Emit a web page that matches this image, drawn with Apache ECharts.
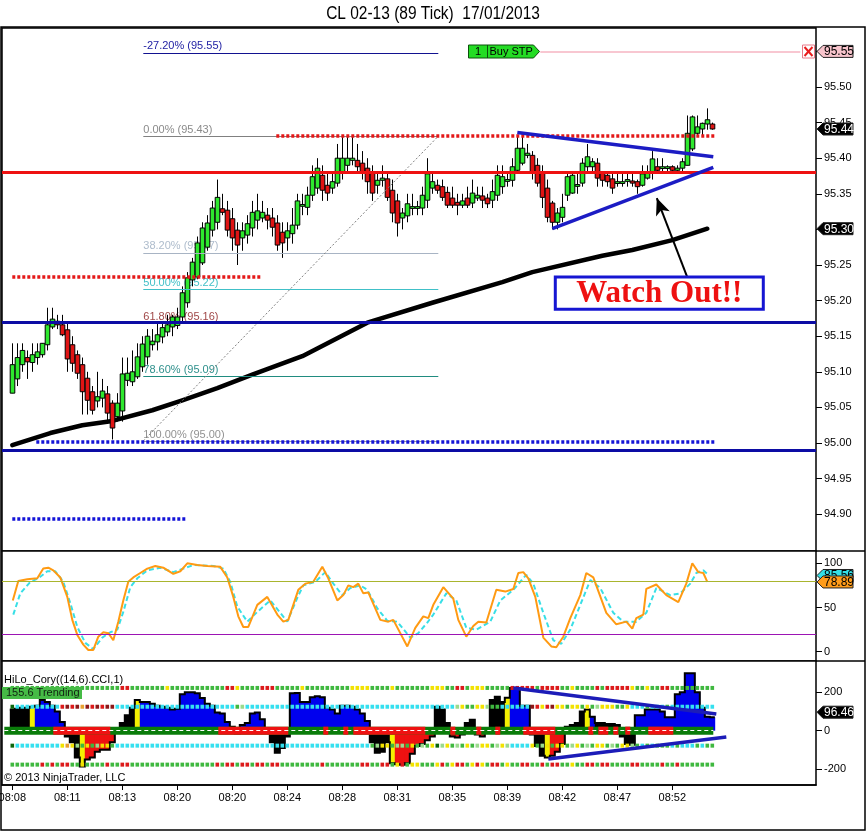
<!DOCTYPE html>
<html><head><meta charset="utf-8">
<script src="https://cdn.jsdelivr.net/npm/echarts@6/dist/echarts.min.js"></script>
<style>html,body{margin:0;padding:0;background:#fff;overflow:hidden}#c{width:866px;height:831px}</style>
</head><body><div id="c"></div>
<script>
// ---------------- DATA ----------------
const opens = [95.07,95.09,95.11,95.12,95.113,95.12,95.124,95.138,95.163,95.171,
 95.166,95.159,95.138,95.124,95.11,95.091,95.072,95.059,95.063,95.069,
 95.056,95.037,95.045,95.088,95.086,95.093,95.107,95.121,95.138,95.142,
 95.149,95.156,95.163,95.165,95.177,95.197,95.229,95.233,95.253,95.275,
 95.299,95.31,95.329,95.327,95.315,95.299,95.288,95.292,95.302,95.313,
 95.316,95.32,95.316,95.309,95.296,95.288,95.294,95.306,95.333,95.331,
 95.348,95.358,95.376,95.362,95.358,95.365,95.381,95.39,95.397,95.397,
 95.393,95.386,95.379,95.362,95.369,95.371,95.355,95.34,95.316,95.319,
 95.331,95.33,95.33,95.341,95.358,95.362,95.36,95.352,95.344,95.338,
 95.334,95.344,95.337,95.344,95.347,95.344,95.341,95.348,95.36,95.368,
 95.369,95.383,95.393,95.404,95.404,95.39,95.381,95.358,95.337,95.31,
 95.317,95.348,95.351,95.361,95.365,95.388,95.388,95.393,95.379,95.376,
 95.371,95.366,95.366,95.368,95.368,95.367,95.362,95.372,95.381,95.388,
 95.387,95.387,95.388,95.383,95.386,95.39,95.413,95.435,95.441,95.448,
 95.448];
const highs = [95.14,95.14,95.14,95.13,95.14,95.14,95.14,95.19,95.19,95.18,
 95.18,95.17,95.15,95.13,95.12,95.10,95.08,95.10,95.09,95.08,
 95.06,95.07,95.12,95.12,95.13,95.14,95.15,95.16,95.16,95.17,
 95.17,95.18,95.18,95.19,95.22,95.24,95.26,95.29,95.31,95.32,
 95.34,95.37,95.35,95.34,95.33,95.31,95.31,95.32,95.34,95.35,
 95.34,95.33,95.33,95.32,95.31,95.31,95.33,95.35,95.35,95.36,
 95.39,95.40,95.39,95.38,95.38,95.42,95.43,95.43,95.43,95.42,
 95.41,95.40,95.39,95.38,95.39,95.38,95.37,95.35,95.33,95.35,
 95.35,95.34,95.36,95.40,95.38,95.37,95.37,95.36,95.36,95.35,
 95.35,95.36,95.37,95.36,95.36,95.35,95.37,95.39,95.39,95.38,
 95.40,95.43,95.43,95.42,95.41,95.40,95.39,95.37,95.34,95.33,
 95.35,95.38,95.38,95.38,95.40,95.42,95.40,95.40,95.38,95.38,
 95.38,95.38,95.38,95.38,95.38,95.37,95.39,95.39,95.41,95.40,
 95.40,95.39,95.39,95.39,95.40,95.46,95.46,95.46,95.45,95.47,
 95.45];
const lows = [95.07,95.08,95.10,95.09,95.10,95.11,95.12,95.13,95.16,95.16,
 95.15,95.10,95.10,95.09,95.04,95.04,95.04,95.05,95.05,95.03,
 95.005,95.03,95.03,95.08,95.08,95.09,95.10,95.11,95.13,95.13,
 95.14,95.15,95.15,95.16,95.17,95.19,95.22,95.23,95.25,95.27,
 95.29,95.30,95.32,95.29,95.27,95.25,95.27,95.28,95.29,95.30,
 95.31,95.30,95.29,95.27,95.26,95.27,95.28,95.30,95.32,95.32,
 95.34,95.35,95.34,95.34,95.35,95.36,95.37,95.38,95.39,95.38,
 95.37,95.35,95.34,95.35,95.36,95.34,95.31,95.29,95.30,95.31,
 95.32,95.32,95.32,95.33,95.35,95.35,95.34,95.33,95.33,95.32,
 95.33,95.33,95.33,95.34,95.33,95.33,95.33,95.34,95.35,95.36,
 95.36,95.38,95.39,95.40,95.37,95.36,95.33,95.31,95.30,95.30,
 95.31,95.34,95.35,95.35,95.36,95.38,95.38,95.36,95.36,95.36,
 95.35,95.36,95.36,95.36,95.36,95.35,95.36,95.37,95.37,95.38,
 95.38,95.38,95.38,95.38,95.38,95.39,95.41,95.43,95.43,95.44,
 95.44];
const closes = [95.11,95.12,95.13,95.114,95.124,95.128,95.14,95.166,95.174,95.166,
 95.152,95.118,95.112,95.098,95.072,95.06,95.046,95.065,95.073,95.042,
 95.021,95.056,95.097,95.098,95.10,95.121,95.139,95.15,95.143,95.152,
 95.162,95.166,95.177,95.177,95.211,95.232,95.254,95.281,95.302,95.309,
 95.33,95.345,95.324,95.299,95.288,95.278,95.298,95.308,95.324,95.326,
 95.324,95.313,95.303,95.278,95.281,95.298,95.306,95.34,95.335,95.348,
 95.374,95.386,95.355,95.351,95.367,95.40,95.40,95.40,95.40,95.388,
 95.381,95.367,95.351,95.369,95.372,95.345,95.323,95.309,95.323,95.336,
 95.332,95.332,95.348,95.378,95.367,95.355,95.345,95.334,95.334,95.334,
 95.34,95.334,95.351,95.348,95.341,95.336,95.353,95.376,95.374,95.370,
 95.388,95.414,95.414,95.407,95.379,95.365,95.345,95.317,95.31,95.323,
 95.331,95.374,95.376,95.363,95.393,95.402,95.395,95.372,95.369,95.367,
 95.358,95.367,95.367,95.370,95.365,95.36,95.378,95.381,95.399,95.383,
 95.388,95.388,95.383,95.386,95.395,95.435,95.458,95.444,95.449,95.454,
 95.441];

const timeLabels = ['08:08','08:11','08:13','08:20','08:20','08:24','08:28','08:31','08:35','08:39','08:42','08:47','08:52'];
const timeLabelBars = [0,11,22,33,44,55,66,77,88,99,110,121,132];
const priceTicks = [94.90,94.95,95.00,95.05,95.10,95.15,95.20,95.25,95.30,95.35,95.40,95.45,95.50,95.55];
const stochTicks = [0,50,100];
const cciTicks = [-200,0,200];

// moving average (read at sample bars)
const smaPoints = [[0,94.997],[7.6,95.014],[14,95.025],[20,95.031],[28,95.046],[34,95.060],[41,95.077],[48,95.096],[58,95.122],[71,95.169],[84,95.197],[98,95.226],[104,95.240],[118,95.263],[124,95.271],[132,95.285],[139,95.301]];

// stochastics (bar position, value)
const stochK = [[0.1,58],[1.2,80],[3,82],[5,83],[6.2,94],[7.2,95],[8.2,92],[9.6,84],[11,62],[12,36],[13,19],[14.2,8],[15.2,2],[16.2,2],[17.2,17],[18.2,22],[19.2,21],[20.2,13],[21.2,34],[22.2,58],[23.2,79],[24.2,84],[25.6,89],[27,94],[28.6,97],[30.2,95],[32.2,88],[33.6,91],[35,100],[37,98],[39,97],[41.6,96],[43,84],[44.2,62],[45.2,40],[46.2,28],[47.2,28],[49,53],[51,62],[53,42],[54.2,34],[55.2,36],[57.2,70],[58.6,77],[60.2,79],[62,96],[63.2,83],[65,58],[66.2,64],[67.2,75],[68.2,73],[69.2,77],[70.2,66],[71.2,67],[73.6,36],[75.2,34],[76.2,36],[79,6],[80.6,27],[82.2,40],[83.2,38],[84.2,53],[86.2,73],[88.2,60],[89.2,36],[90.8,17],[92.2,29],[93.2,34],[94.8,33],[96.8,70],[98.6,68],[100.2,71],[101.2,89],[102.2,90],[103.2,83],[104.6,62],[106.2,16],[107.8,6],[108.8,5],[110.2,17],[111.6,38],[113.6,64],[114.8,89],[116.2,84],[118.8,44],[120.8,31],[122.8,34],[124,26],[124.8,38],[126.2,42],[126.8,71],[128.8,76],[130.8,64],[133.2,56],[134.8,77],[136,100],[137.2,90],[138.2,89],[139,78.89]];
const stochD = [[0.2,42],[1.6,66],[3.6,79],[5.2,83],[7,91],[8.6,91],[10.2,79],[11.6,55],[13,28],[14.6,10],[16.2,3],[18,16],[19.6,22],[21,25],[22.2,45],[23.6,73],[25,83],[27,92],[29.6,95],[32.2,90],[34.2,94],[36.2,98],[40.2,97],[42.2,94],[43.6,79],[45,51],[47,34],[49,45],[51.6,58],[53.6,44],[55,34],[57,61],[58.2,75],[60.6,79],[62.6,90],[64.2,77],[66,64],[67.6,72],[69.6,75],[71,70],[73,49],[75,35],[77,34],[79.6,16],[81.2,21],[83,33],[84.2,42],[86.8,66],[88.8,58],[90.8,27],[92.8,25],[95.6,34],[97.6,58],[100.2,70],[102.8,87],[104.2,77],[106.2,44],[108.2,13],[109.8,9],[111.6,25],[113.6,53],[115.6,81],[117.6,72],[120.2,44],[122.2,34],[124.8,34],[126.8,44],[128.8,72],[131.6,64],[133.6,66],[135.6,77],[136.8,89],[138.2,92],[139,88]];

// CCI histogram per bar + fill colour codes
const cciValues = [110,115,120,120,125,130,160,150,130,100,
 45,-30,-60,-140,-187,-150,-140,-110,-100,-100,
 -60,10,40,80,120,160,150,150,140,130,
 125,120,110,115,190,200,200,195,170,140,
 130,95,90,45,20,-15,30,40,90,95,
 60,10,-60,-115,-90,-30,195,197,150,150,
 175,180,175,120,110,90,130,130,125,110,
 90,50,-60,-115,-110,-60,-170,-175,-177,-170,
 -120,-80,-70,-50,-30,125,110,40,-30,-36,
 -20,40,57,-20,-30,-10,160,177,150,172,
 223,223,130,130,-20,-80,-130,-140,-130,-110,
 -70,20,30,40,100,110,73,40,40,35,
 35,30,-30,-70,-73,80,80,110,110,110,
 100,70,70,190,200,300,300,200,120,73,
 70];
const cciColors = 'kkkk'+'y'+'bbbbbb'+'kkk'+'y'+'rrrrrr'+'kkkk'+'y'+'bbbbbbbbbbbbbbbbbbb'+'k'+'bbbbbb'+'kkkk'+'bbbbbbbbbbbbbbbb'+'kkkk'+'y'+'rrrrrrrr'+'kkk'+'rrr'+'kk'+'rrr'+'kkk'+'y'+'bbbb'+'kkk'+'y'+'rrr'+'kkkk'+'y'+'b'+'kkkkkkkk'+'bbbbbbbbbbbbbbbb';
const dotRowValues = [223,125,-78,-177];
const dotRows = [
 'gggggggggggggggggggggg'+'rrgggggggygggggggggg'+'grryggggrrrgggggyggg'+'ggggggyyyyggggyggggg'+'ggyyyggrrgyyygggggrr'+'rrrgrrrrggyggggrgrrr'+'rryggyggrrggggggggg',
 'dccccccccc'+'rRrRoRrRrRR'+'ccccccccccccccccccccccccglcccccccccccccccccccccccccccccccccccccc'+'cccc'+'lyggyylgg'+'cccccc'+'RryrRyyg'+'yygyglyyyggy'+'cccgcccgccccccccc',
 'dccccccccc'+'yoylgyglyyg'+'ccccccccccccccccccccccccccccccccccccccccccccccccccc'+'glyygllgyglgy'+'dlyglgyglyyglyl'+'cccc'+'yglygyyglyglgyyglgyyl'+'gcgcgggcgcccgcgg',
 'gggggg'+'rgrgrrg'+'gyggggrg'+'grrggggggggggggggggg'+'rgrrgrrgrrgrrgg'+'ggggggrgggggggr'+'rggrrgyrgyyggg'+'yrgyrrgyrygrrgyggrrg'+'grgrrggyggrrgrrggggr'+'rggggrggrggggggg'
];
const zeroBandRed = [[8.2,19.6],[41.2,55.2],[62.2,63.2],[66.2,67.2],[68.2,82.6],[87.6,88.6],[92.8,93.8],[96.6,97.6],[102.2,108.6],[115.2,116.2],[117.2,119.2],[120.2,121.2],[122.6,123.6],[127.2,132.2]];
const zeroBandSpan = [-1.6,140.2];

// horizontal levels
const fullLevels = [95.38, 95.168, 94.986];
const fullLevelColors = ['#ee1111','#0c0ca4','#0c0ca4'];
const dottedLevels = [[4.8,140.6,95.002,'#1414d8'],[0,34.6,94.893,'#1414d8'],[0,49.6,95.233,'#e41818'],[52.8,140.4,95.431,'#e41818']];
// fibonacci
const fibLevels = [95.548,95.431,95.267,95.216,95.168,95.094,95.002];
const fibTexts = ['-27.20% (95.55)','0.00% (95.43)','38.20% (95.27)','50.00% (95.22)','61.80% (95.16)','78.60% (95.09)','100.00% (95.00)'];
const fibTextColors = ['#2222a4','#8a8a8a','#aebccc','#44c0c8','#a04848','#2e908c','#929292'];
const fibLineColors = ['#121290','#808080','#a8b4c4','#40c0c8','#5c1c62','#208c80','#a0a0a0'];
const fibSpan = [26.2,85.2];
const fibDiag = [[26.2,95.003],[85.2,95.431]];
// triangle (price panel)
const triUpper = [[101,95.436],[140.2,95.402]];
const triLower = [[108,95.301],[140.2,95.387]];
const arrowPts = [[135.2,95.229],[128.9,95.344]];
const watchBox = [108.6,95.233,150.2,95.188];
const buyStp = [91.2,95.551];
const buyLine = [[105.6,95.55],[157.6,95.55]];
const xBox = [159.1,95.551];
// right-axis tags
const priceTagValues = [95.55,95.441,95.301];
const priceTagTexts = ['95.55','95.44','95.30'];
const priceTagFills = ['#f8c4cc','#000000','#000000'];
const priceTagInk = ['#000','#fff','#fff'];
const stochTagValues = [86.2,78.89];
const stochTagTexts = ['85.56','78.89'];
const stochTagFills = ['#33e0e6','#ff9c1a'];
const cciTagValues = [96.46];
const cciTagTexts = ['96.46'];
// CCI triangle
const cciTriUpper = [[100.2,222.7],[140.8,87]];
const cciTriLower = [[107.2,-147.6],[142.8,-32.9]];

// ---------------- CHART ----------------
const XMIN = -2.06, XMAX = 160.74;
const FONT = '"Liberation Sans", Arial, sans-serif';
const chart = echarts.init(document.getElementById('c'), null, {renderer:'canvas'});
const N = opens.length;

function tag(x, y, fill, ink, text) {
  return {type:'group', children:[
    {type:'polygon', shape:{points:[[x+1,y],[x+7,y-6],[x+37,y-6],[x+37,y+6],[x+7,y+6]]}, style:{fill:fill, stroke:'#222', lineWidth:1}},
    {type:'text', style:{x:x+8, y:y+0.5, text:text, fill:ink, font:'12px '+FONT, align:'left', verticalAlign:'middle'}}
  ]};
}
const dotColor = {g:'#3fb83f', d:'#0b660b', l:'#9ada8c', r:'#dc1a1a', R:'#8c1818', y:'#f2e200', o:'#e8a030', c:'#35e0ef'};
const histColor = {b:'#0000ee', k:'#000000', y:'#f4f000', r:'#ee1111'};

const dotData = [];
dotRows.forEach((row, r) => { for (let i = 0; i < Math.min(row.length, N); i++) dotData.push([i, dotRowValues[r], r]); });

function seg(a, b, style, extraEnd) {
  return [{coord:a, lineStyle:style}, Object.assign({coord:b}, extraEnd||{})];
}

const priceLines = [];
fullLevels.forEach((p,k)=>priceLines.push({yAxis:p, lineStyle:{color:fullLevelColors[k], width:3, type:'solid'}}));
dottedLevels.forEach(d=>priceLines.push(seg([d[0],d[2]],[d[1],d[2]],{color:d[3], width:3.5, type:[3,2]})));
priceLines.push(seg(triUpper[0],triUpper[1],{color:'#1c1cc4', width:3.5, type:'solid'}));
priceLines.push(seg(triLower[0],triLower[1],{color:'#1c1cc4', width:3.5, type:'solid'}));
priceLines.push(seg(buyLine[0],buyLine[1],{color:'#f6b4c2', width:1.5, type:'solid'}));
priceLines.push(seg(arrowPts[0],arrowPts[1],{color:'#000', width:2, type:'solid'},{symbol:'arrow', symbolSize:[11,17]}));

const fibLines = [];
fibLevels.forEach((p,k)=>fibLines.push(seg([fibSpan[0],p],[fibSpan[1],p],{color:fibLineColors[k], width:1.2, type:'solid'})));
fibLines.push(seg(fibDiag[0],fibDiag[1],{color:'#808080', width:1, type:[2,2]}));

function yAx(grid, min, max, ticks, fmt) {
  return {type:'value', gridIndex:grid, position:'right', min:min, max:max,
    axisLine:{show:false, onZero:false},
    axisTick:{show:true, length:6, customValues:ticks, lineStyle:{color:'#000'}},
    axisLabel:{show:true, customValues:ticks, margin:8, color:'#000', fontSize:11, fontFamily:FONT, formatter:fmt},
    splitLine:{show:false}, splitArea:{show:false}};
}
function gridBox(top, height) {
  return {left:2, top:top, width:814, height:height, show:true, borderColor:'#000', borderWidth:1.5,
    backgroundColor:'#fff', containLabel:false, outerBoundsMode:'none'};
}

const option = {
  animation:false,
  backgroundColor:'#fff',
  grid:[ gridBox(28, 523), gridBox(551, 110), gridBox(661, 124) ],
  xAxis:[
    {type:'value', gridIndex:0, min:XMIN, max:XMAX, show:false, axisLine:{onZero:false}},
    {type:'value', gridIndex:1, min:XMIN, max:XMAX, show:false, axisLine:{onZero:false}},
    {type:'value', gridIndex:2, min:XMIN, max:XMAX, position:'bottom',
     axisLine:{show:true, onZero:false, lineStyle:{color:'#000', width:1.5}},
     axisTick:{show:true, length:5, customValues:timeLabelBars, lineStyle:{color:'#000'}},
     axisLabel:{show:true, customValues:timeLabelBars, margin:7, color:'#000', fontSize:11, fontFamily:FONT,
       hideOverlap:false, formatter:(v)=>timeLabels[timeLabelBars.indexOf(Math.round(v))] || ''},
     splitLine:{show:false}, splitArea:{show:false}}
  ],
  yAxis:[
    yAx(0, 94.84831, 95.58287, priceTicks, (v)=>v.toFixed(2)),
    yAx(1, -10.5, 113.9, stochTicks, (v)=>String(v)),
    yAx(2, -283.2, 363.5, cciTicks, (v)=>String(v))
  ],
  graphic:[
    {type:'text', x:433, y:14, scaleX:0.86, z:100, style:{text:'CL 02-13 (89 Tick)  17/01/2013', font:'18px '+FONT, fill:'#000', align:'center', verticalAlign:'middle'}},
    {type:'rect', z:100, shape:{x:1, y:27, width:864, height:803}, style:{fill:'none', stroke:'#000', lineWidth:1.5}},
    {type:'line', z:100, shape:{x1:816, y1:551, x2:865, y2:551}, style:{stroke:'#000', lineWidth:1.5}},
    {type:'line', z:100, shape:{x1:816, y1:661, x2:865, y2:661}, style:{stroke:'#000', lineWidth:1.5}},
    {type:'text', z:100, x:4, y:680, style:{text:'HiLo_Cory((14,6).CCI,1)', font:'11px '+FONT, fill:'#000', verticalAlign:'middle'}},
    {type:'rect', z:100, shape:{x:2, y:687, width:80, height:12}, style:{fill:'#46bb46'}},
    {type:'text', z:101, x:6, y:693, style:{text:'155.6 Trending', font:'11px '+FONT, fill:'#112211', verticalAlign:'middle'}},
    {type:'text', z:100, x:4, y:778, style:{text:'\u00a9 2013 NinjaTrader, LLC', font:'11px '+FONT, fill:'#000', verticalAlign:'middle'}}
  ],
  series:[
    // fibonacci layer (behind candles)
    {type:'line', xAxisIndex:0, yAxisIndex:0, data:[], z:1, silent:true,
     markLine:{silent:true, symbol:['none','none'], label:{show:false}, data:fibLines}},
    {type:'custom', xAxisIndex:0, yAxisIndex:0, z:1, silent:true, clip:false,
     data:fibLevels.map((p,k)=>[fibSpan[0],p,k]),
     renderItem:(params, api)=>{
       const pt = api.coord([api.value(0), api.value(1)]);
       const k = params.dataIndex;
       return {type:'text', style:{x:pt[0], y:pt[1]-1, text:fibTexts[k], fill:fibTextColors[k], font:'11px '+FONT, align:'left', verticalAlign:'bottom'}};
     }},
    // moving average
    {type:'line', xAxisIndex:0, yAxisIndex:0, data:smaPoints, z:2, showSymbol:false, symbol:'none', smooth:false,
     lineStyle:{color:'#000', width:4.5, cap:'round', join:'round'}},
    // candles
    {type:'custom', xAxisIndex:0, yAxisIndex:0, z:3, silent:true,
     data:opens.map((o,i)=>[i,o,highs[i],lows[i],closes[i]]),
     encode:{x:0, y:[1,2,3,4]},
     renderItem:(params, api)=>{
       const i = api.value(0);
       const o = api.coord([i, api.value(1)]);
       const h = api.coord([i, api.value(2)]);
       const l = api.coord([i, api.value(3)]);
       const c = api.coord([i, api.value(4)]);
       const up = api.value(4) >= api.value(1);
       const w = 4.6;
       const x = Math.round(o[0]) + 0.5;
       const top = Math.min(o[1], c[1]);
       const hgt = Math.max(Math.abs(o[1]-c[1]), 1.8);
       return {type:'group', children:[
         {type:'line', shape:{x1:x, y1:h[1], x2:x, y2:l[1]}, style:{stroke:'#000', lineWidth:1}},
         {type:'rect', shape:{x:x-w/2, y:top, width:w, height:hgt}, style:{fill: up ? '#2ee82e' : '#e01414', stroke:'#000', lineWidth:1}}
       ]};
     }},
    // solid / dotted level lines, trend lines, arrow
    {type:'line', xAxisIndex:0, yAxisIndex:0, data:[], z:5, silent:true,
     markLine:{silent:true, symbol:['none','none'], label:{show:false}, data:priceLines}},
    // Watch Out box
    {type:'custom', xAxisIndex:0, yAxisIndex:0, z:6, silent:true, clip:false,
     data:[watchBox],
     renderItem:(params, api)=>{
       const a = api.coord([api.value(0), api.value(1)]);
       const b = api.coord([api.value(2), api.value(3)]);
       return {type:'group', children:[
         {type:'rect', shape:{x:a[0], y:a[1], width:b[0]-a[0], height:b[1]-a[1]}, style:{fill:'#fff', stroke:'#1616d2', lineWidth:3}},
         {type:'text', style:{x:(a[0]+b[0])/2, y:(a[1]+b[1])/2+1, text:'Watch Out!!', fill:'#ee1111', font:'bold 31px "Liberation Serif", "Times New Roman", serif', align:'center', verticalAlign:'middle'}}
       ]};
     }},
    // Buy STP order tag + X box
    {type:'custom', xAxisIndex:0, yAxisIndex:0, z:6, silent:true, clip:false,
     data:[[buyStp[0], buyStp[1], 0],[xBox[0], xBox[1], 1]],
     renderItem:(params, api)=>{
       const p = api.coord([api.value(0), api.value(1)]);
       const x = Math.round(p[0])+0.5, y = Math.round(p[1])+0.5;
       if (params.dataIndex === 0) {
         return {type:'group', children:[
           {type:'polygon', shape:{points:[[x,y-6.5],[x+65,y-6.5],[x+71,y],[x+65,y+6.5],[x,y+6.5]]}, style:{fill:'#24dc24', stroke:'#0d500d', lineWidth:1}},
           {type:'line', shape:{x1:x+19, y1:y-6.5, x2:x+19, y2:y+6.5}, style:{stroke:'#0d500d', lineWidth:1}},
           {type:'text', style:{x:x+9.5, y:y+0.5, text:'1', fill:'#000', font:'11px '+FONT, align:'center', verticalAlign:'middle'}},
           {type:'text', style:{x:x+21, y:y+0.5, text:'Buy STP', fill:'#000', font:'11px '+FONT, align:'left', verticalAlign:'middle'}}
         ]};
       }
       return {type:'group', children:[
         {type:'rect', shape:{x:x-6, y:y-6.5, width:12, height:13}, style:{fill:'#fff', stroke:'#e87a8a', lineWidth:1}},
         {type:'line', shape:{x1:x-4, y1:y-4.5, x2:x+4, y2:y+4.5}, style:{stroke:'#e81c1c', lineWidth:2}},
         {type:'line', shape:{x1:x+4, y1:y-4.5, x2:x-4, y2:y+4.5}, style:{stroke:'#e81c1c', lineWidth:2}}
       ]};
     }},
    // price tags
    {type:'custom', xAxisIndex:0, yAxisIndex:0, z:10, silent:true, clip:false,
     data:priceTagValues.map(v=>[XMAX, v]),
     renderItem:(params, api)=>{
       const p = api.coord([api.value(0), api.value(1)]);
       const k = params.dataIndex;
       return tag(p[0], p[1], priceTagFills[k], priceTagInk[k], priceTagTexts[k]);
     }},

    // ---------- Stochastics ----------
    {type:'line', xAxisIndex:1, yAxisIndex:1, data:stochD, z:3, showSymbol:false, symbol:'none',
     lineStyle:{color:'#38dfe6', width:2, type:[5,3]},
     markLine:{silent:true, symbol:['none','none'], label:{show:false},
       data:[{yAxis:80, lineStyle:{color:'#a9b52e', width:1.2, type:'solid'}},{yAxis:20, lineStyle:{color:'#9c14b4', width:1.2, type:'solid'}}]}},
    {type:'line', xAxisIndex:1, yAxisIndex:1, data:stochK, z:4, showSymbol:false, symbol:'none',
     lineStyle:{color:'#ff9a12', width:2}},
    {type:'custom', xAxisIndex:1, yAxisIndex:1, z:10, silent:true, clip:false,
     data:stochTagValues.map(v=>[XMAX, v]),
     renderItem:(params, api)=>{
       const p = api.coord([api.value(0), api.value(1)]);
       const k = params.dataIndex;
       return tag(p[0], p[1], stochTagFills[k], '#000', stochTagTexts[k]);
     }},

    // ---------- CCI ----------
    {type:'custom', xAxisIndex:2, yAxisIndex:2, z:2, silent:true,
     data:cciValues.map((v,i)=>[i,v]),
     renderItem:(params, api)=>{
       const i = api.value(0), v = api.value(1);
       const a = api.coord([i-0.5, 0]);
       const b = api.coord([i+0.5, v]);
       return {type:'rect', shape:{x:a[0], y:Math.min(a[1],b[1]), width:b[0]-a[0]+0.4, height:Math.abs(b[1]-a[1])},
         style:{fill:histColor[cciColors[params.dataIndex]] || '#000'}};
     }},
    // histogram outline (step polyline through the bar tops)
    {type:'custom', xAxisIndex:2, yAxisIndex:2, z:3, silent:true,
     data:[[0, 0]],
     renderItem:(params, api)=>{
       const pts = [];
       cciValues.forEach((v,i)=>{ pts.push(api.coord([i-0.5, v])); pts.push(api.coord([i+0.5, v])); });
       return {type:'polyline', shape:{points:pts}, style:{stroke:'#000', lineWidth:2, fill:null}};
     }},
    {type:'custom', xAxisIndex:2, yAxisIndex:2, z:4, silent:true,
     data:[[zeroBandSpan[0], zeroBandSpan[1], 0]].concat(zeroBandRed.map(s=>[s[0], s[1], 1])),
     renderItem:(params, api)=>{
       const a = api.coord([api.value(0), 21]);
       const b = api.coord([api.value(1), -21]);
       return {type:'rect', shape:{x:a[0], y:a[1], width:b[0]-a[0], height:b[1]-a[1]}, style:{fill: api.value(2) ? '#ee1212' : '#0a7c0a'}};
     }},
    {type:'line', xAxisIndex:2, yAxisIndex:2, data:[], z:5, silent:true,
     markLine:{silent:true, symbol:['none','none'], label:{show:false},
       data:[seg([zeroBandSpan[0],0],[zeroBandSpan[1],0],{color:'#ffffff', width:1, type:[4,3]}),
             seg(cciTriUpper[0],cciTriUpper[1],{color:'#1c1cb8', width:3.5, type:'solid'}),
             seg(cciTriLower[0],cciTriLower[1],{color:'#1c1cb8', width:3.5, type:'solid'})]}},
    {type:'custom', xAxisIndex:2, yAxisIndex:2, z:4, silent:true,
     data:dotData,
     renderItem:(params, api)=>{
       const i = api.value(0), r = api.value(2);
       const p = api.coord([i, api.value(1)]);
       const code = dotRows[r][i];
       return {type:'rect', shape:{x:p[0]-1.8, y:p[1]-2, width:3.6, height:4}, style:{fill:dotColor[code] || '#3fb83f'}};
     }},
    {type:'custom', xAxisIndex:2, yAxisIndex:2, z:10, silent:true, clip:false,
     data:cciTagValues.map(v=>[XMAX, v]),
     renderItem:(params, api)=>{
       const p = api.coord([api.value(0), api.value(1)]);
       return tag(p[0], p[1], '#000', '#fff', cciTagTexts[params.dataIndex]);
     }}
  ]
};
chart.setOption(option);
</script>
</body></html>
